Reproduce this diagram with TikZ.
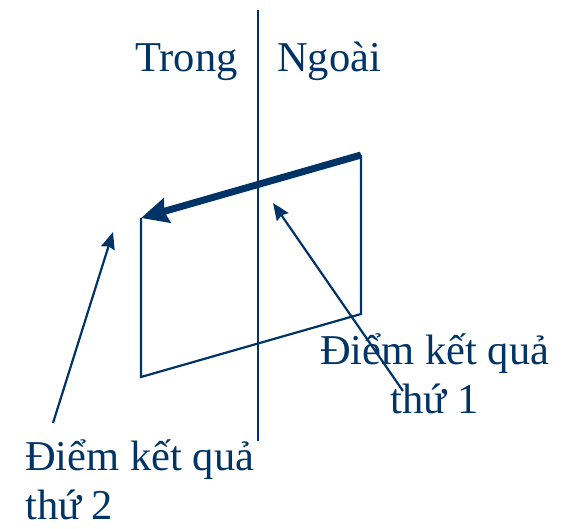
\documentclass[tikz,border=0pt]{standalone}
\usepackage{fontspec}
\setmainfont{Liberation Serif}
\usetikzlibrary{arrows.meta}
\definecolor{navy}{RGB}{0,51,102}
\tikzset{
  lbl/.style={inner sep=0pt, text=navy, font=\fontsize{42.5}{49}\selectfont},
  edge/.style={draw=navy, line width=2.2pt},
  bigarrow/.style={draw=navy, line width=7pt, -{Stealth[length=27pt,width=25pt,inset=3pt]}},
  ptr/.style={draw=navy, line width=2.2pt, -{Stealth[length=17pt,width=14pt,inset=2pt]}}
}
\begin{document}
\begin{tikzpicture}[x=1pt,y=-1pt]
\useasboundingbox (0,0) rectangle (564,528);
% divider
\coordinate (vt) at (258,10);
\coordinate (vb) at (258,441);
\draw[edge] (vt) -- (vb);
% headings
\node[lbl, anchor=base west] (trong) at (135,71) {Trong};
\node[lbl, anchor=base west] (ngoai) at (277,71) {Ngoài};
% parallelogram corners
\coordinate (A) at (141,218);
\coordinate (B) at (361,155);
\coordinate (C) at (361,314);
\coordinate (D) at (141,377);
\draw[edge, line join=miter] (B) -- (C) -- (D) -- (A);
\draw[bigarrow] (B) -- (A);
% labels (base anchor = baseline of last line)
\node[lbl, anchor=base west, align=center] (p1) at (320,413) {Điểm kết quả\\thứ 1};
\node[lbl, anchor=base west, align=left] (p2) at (25,519) {Điểm kết quả\\thứ 2};
% pointers
\coordinate (s1) at (403,391);
\coordinate (t1) at (273,203);
\coordinate (s2) at (53,423);
\coordinate (t2) at (113,232);
\draw[ptr] (s1) -- (t1);
\draw[ptr] (s2) -- (t2);
\end{tikzpicture}
\end{document}
